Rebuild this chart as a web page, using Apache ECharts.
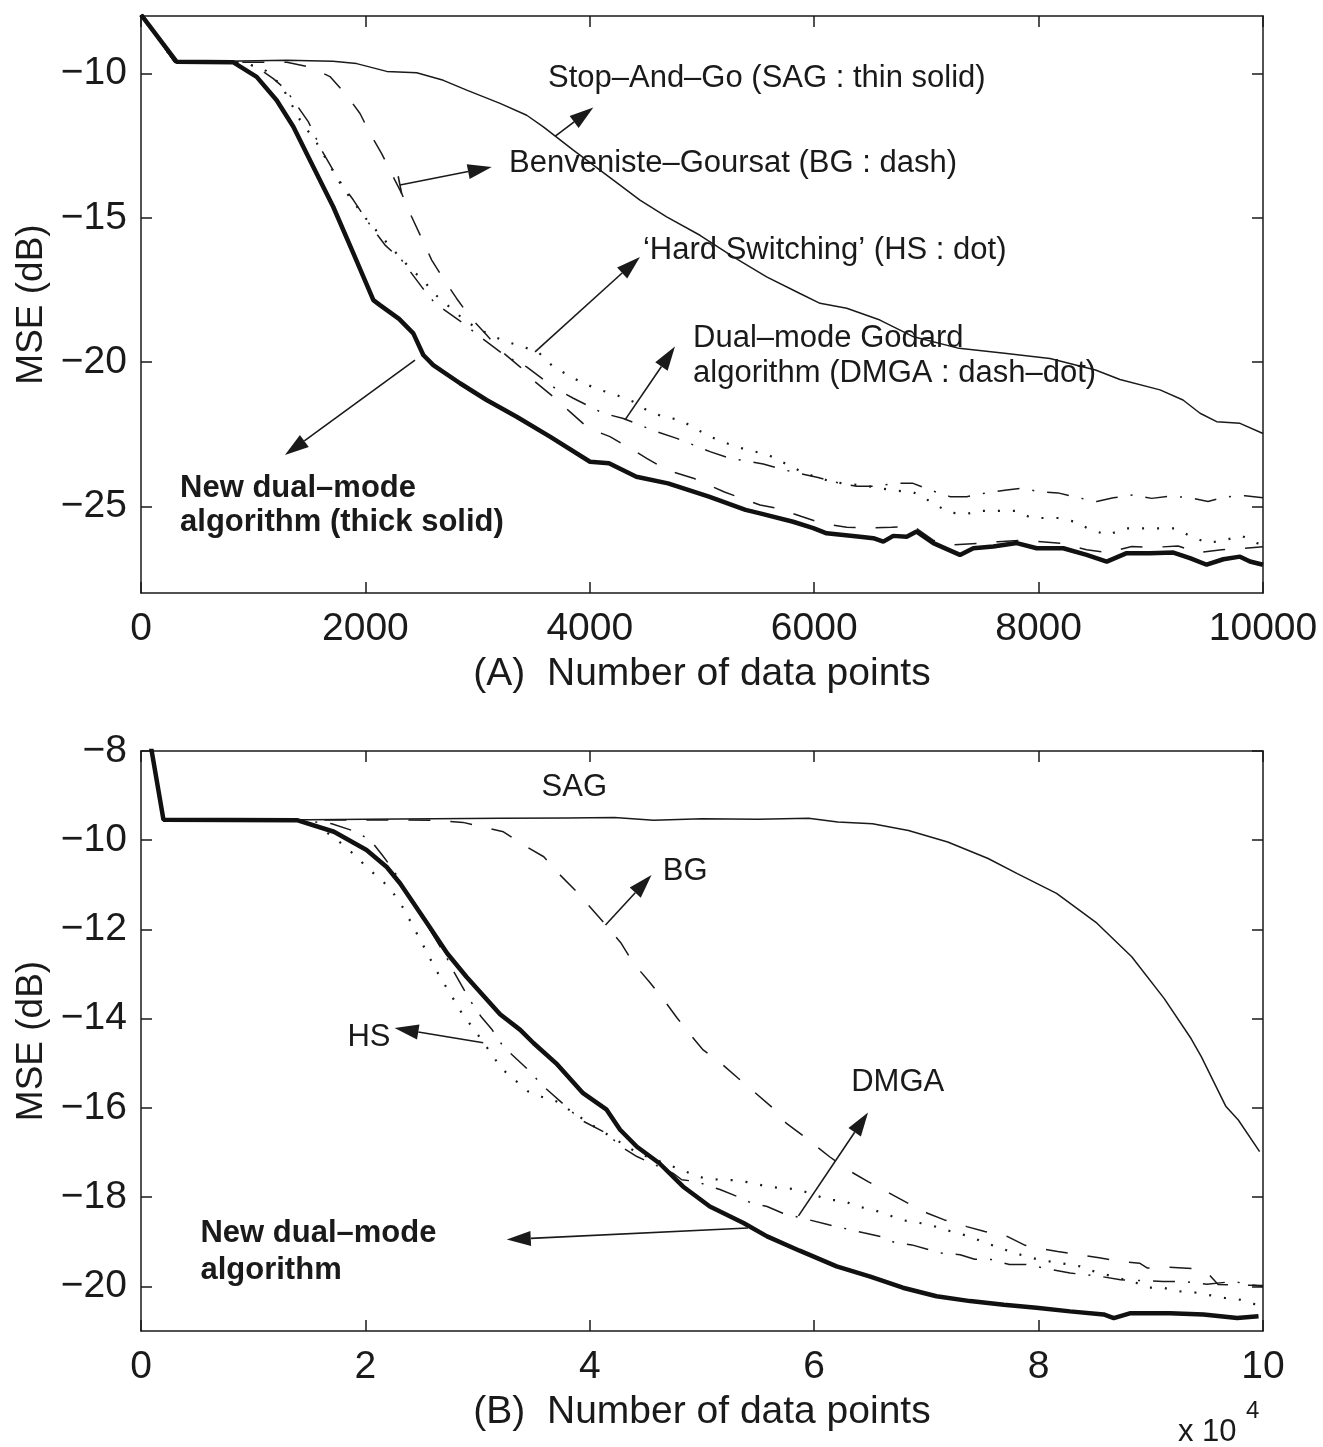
<!DOCTYPE html>
<html>
<head>
<meta charset="utf-8">
<title>MSE convergence (A) and (B)</title>
<script src="https://cdn.jsdelivr.net/npm/echarts@6/dist/echarts.min.js"></script>
<style>
  html, body { margin: 0; padding: 0; background: #fff; }
  #chart { width: 1323px; height: 1447px; }
</style>
</head>
<body>
<div id="chart"></div>
<script>
// (A) x: number of data points, y: MSE (dB)
const topSAG = [[0,-7.95],[300,-9.6],[882,-9.56],[1299,-9.53],[1711,-9.57],[1922,-9.65],[2190,-9.92],[2457,-9.97],[2695,-10.23],[2903,-10.57],[3200,-11.03],[3438,-11.44],[3586,-11.84],[3853,-12.65],[4091,-13.34],[4210,-13.69],[4447,-14.38],[4685,-14.96],[4982,-15.6],[5279,-16.35],[5576,-17.04],[5873,-17.62],[6052,-17.96],[6290,-18.13],[6586,-18.54],[6886,-19.12],[7291,-19.52],[7696,-19.69],[8101,-19.87],[8507,-20.27],[8725,-20.6],[9082,-20.96],[9287,-21.31],[9439,-21.77],[9587,-22.06],[9795,-22.12],[10000,-22.47]];
const topBG = [[0,-7.95],[300,-9.6],[1300,-9.6],[1506,-9.77],[1684,-10.1],[1833,-10.75],[1952,-11.38],[2041,-12.07],[2145,-12.77],[2249,-13.58],[2323,-14.15],[2412,-14.96],[2502,-15.71],[2591,-16.46],[2694,-17.1],[2813,-17.79],[2932,-18.43],[3081,-19.06],[3200,-19.58],[3378,-20.16],[3512,-20.68],[3675,-21.2],[3824,-21.72],[3987,-22.29],[4180,-22.58],[4358,-22.98],[4507,-23.33],[4685,-23.74],[4923,-24.02],[5200,-24.5],[5517,-24.95],[5665,-25.06],[5888,-25.35],[6066,-25.58],[6290,-25.72],[6468,-25.75],[6690,-25.72],[6883,-25.68],[7060,-26.17],[7240,-26.33],[7460,-26.28],[7638,-26.22],[7863,-26.17],[8205,-26.28],[8428,-26.5],[8619,-26.6],[8830,-26.39],[9020,-26.42],[9243,-26.37],[9412,-26.6],[9632,-26.5],[9822,-26.45],[10000,-26.4]];
const topHS = [[0,-7.95],[300,-9.6],[900,-9.6],[1100,-9.85],[1250,-10.4],[1417,-11.6],[1566,-12.4],[1803,-13.98],[2000,-15.0],[2200,-15.9],[2412,-16.8],[2516,-17.15],[2606,-17.6],[2754,-18.1],[2900,-18.6],[3111,-19.06],[3259,-19.29],[3407,-19.47],[3541,-19.65],[3675,-20.16],[3808,-20.45],[3942,-20.73],[4091,-20.96],[4239,-21.14],[4388,-21.37],[4507,-21.66],[4655,-21.89],[4804,-22.0],[5071,-22.58],[5220,-22.81],[5368,-23.0],[5588,-23.21],[5914,-23.85],[6160,-24.15],[6480,-24.3],[6720,-24.45],[6880,-24.5],[7060,-24.88],[7194,-25.2],[7344,-25.27],[7480,-25.15],[7790,-25.15],[7940,-25.4],[8173,-25.4],[8324,-25.53],[8458,-25.8],[8619,-25.99],[8770,-25.76],[9216,-25.76],[9364,-26.05],[9510,-26.27],[9661,-26.16],[9810,-26.02],[9944,-26.27],[10000,-26.3]];
const topDMGA = [[0,-7.95],[300,-9.6],[900,-9.6],[1031,-9.77],[1179,-10.17],[1283,-10.52],[1358,-10.92],[1492,-11.67],[1610,-12.65],[1729,-13.46],[1803,-13.9],[1893,-14.38],[2012,-15.08],[2086,-15.48],[2175,-15.94],[2323,-16.46],[2502,-17.39],[2620,-17.96],[2873,-18.65],[3021,-19.12],[3259,-19.81],[3437,-20.16],[3690,-20.9],[3853,-21.25],[4120,-21.77],[4299,-21.95],[4596,-22.41],[4775,-22.64],[5071,-23.1],[5250,-23.33],[5546,-23.53],[5740,-23.74],[6034,-24.0],[6230,-24.2],[6379,-24.3],[6524,-24.3],[6735,-24.2],[6881,-24.2],[7032,-24.43],[7210,-24.66],[7359,-24.66],[7504,-24.55],[7716,-24.43],[7849,-24.37],[8012,-24.49],[8173,-24.53],[8369,-24.71],[8518,-24.83],[8666,-24.7],[8845,-24.6],[9008,-24.72],[9171,-24.64],[9349,-24.7],[9510,-24.83],[9661,-24.67],[9840,-24.63],[10000,-24.7]];
const topNew = [[0,-7.95],[318,-9.59],[820,-9.6],[1031,-10.11],[1209,-10.92],[1358,-11.84],[1536,-13.23],[1714,-14.62],[1893,-16.23],[2071,-17.85],[2130,-18.02],[2300,-18.5],[2427,-19.0],[2516,-19.75],[2605,-20.1],[2843,-20.73],[3080,-21.31],[3348,-21.89],[3645,-22.58],[4002,-23.45],[4171,-23.5],[4415,-23.97],[4697,-24.2],[5062,-24.66],[5388,-25.12],[5517,-25.24],[5812,-25.53],[5992,-25.75],[6111,-25.93],[6408,-26.05],[6527,-26.1],[6616,-26.22],[6705,-26.02],[6824,-26.05],[6913,-25.87],[7062,-26.27],[7299,-26.68],[7418,-26.45],[7596,-26.39],[7805,-26.27],[7983,-26.45],[8220,-26.45],[8428,-26.68],[8607,-26.91],[8785,-26.62],[8993,-26.62],[9201,-26.6],[9349,-26.79],[9498,-27.02],[9646,-26.83],[9795,-26.74],[9884,-26.91],[10000,-27.02]];

// (B) x: number of data points in units of 10^4
const botSAG = [[0,-6.6],[0.2,-9.54],[1.0,-9.55],[2.0,-9.53],[3.2,-9.51],[3.8,-9.5],[4.22,-9.49],[4.57,-9.55],[5.0,-9.52],[5.5,-9.53],[5.95,-9.51],[6.21,-9.59],[6.52,-9.63],[6.84,-9.78],[7.19,-10.04],[7.55,-10.41],[7.81,-10.75],[8.16,-11.19],[8.52,-11.86],[8.83,-12.61],[9.12,-13.55],[9.36,-14.45],[9.45,-14.85],[9.67,-15.97],[9.78,-16.27],[9.97,-16.98]];
const botBG = [[0,-6.6],[0.2,-9.54],[2.6,-9.55],[2.87,-9.6],[3.23,-9.81],[3.41,-10.11],[3.59,-10.37],[3.72,-10.74],[3.87,-11.12],[4.0,-11.49],[4.13,-11.86],[4.28,-12.31],[4.39,-12.76],[4.53,-13.17],[4.66,-13.58],[4.78,-13.99],[4.91,-14.4],[5.01,-14.7],[5.17,-15.0],[5.32,-15.33],[5.46,-15.63],[5.63,-16.0],[5.75,-16.34],[5.92,-16.66],[6.14,-17.1],[6.32,-17.42],[6.48,-17.65],[6.67,-17.91],[6.83,-18.13],[7.01,-18.36],[7.16,-18.51],[7.36,-18.66],[7.52,-18.77],[7.72,-18.88],[7.88,-19.08],[7.99,-19.14],[8.17,-19.22],[8.36,-19.29],[8.54,-19.36],[8.72,-19.44],[8.9,-19.48],[8.97,-19.59],[9.15,-19.57],[9.38,-19.6],[9.52,-19.74],[9.6,-19.96],[10.0,-19.98]];
const botHS = [[0,-6.6],[0.2,-9.54],[1.4,-9.55],[1.6,-9.72],[1.77,-10.04],[1.89,-10.3],[2.04,-10.67],[2.16,-10.93],[2.25,-11.19],[2.34,-11.53],[2.41,-11.86],[2.49,-12.24],[2.56,-12.57],[2.63,-12.91],[2.71,-13.25],[2.78,-13.54],[2.87,-13.92],[2.96,-14.21],[3.13,-14.81],[3.21,-15.11],[3.33,-15.37],[3.45,-15.63],[3.57,-15.75],[3.7,-15.85],[4.03,-16.4],[4.42,-17.0],[4.89,-17.46],[5.01,-17.57],[5.16,-17.61],[5.31,-17.62],[5.44,-17.68],[5.58,-17.76],[5.72,-17.8],[5.85,-17.82],[6.13,-18.06],[6.26,-18.08],[6.38,-18.21],[6.51,-18.27],[6.65,-18.39],[6.78,-18.51],[6.91,-18.57],[7.0,-18.6],[7.12,-18.69],[7.26,-18.8],[7.39,-18.88],[7.51,-19.01],[7.66,-19.14],[7.78,-19.25],[8.0,-19.4],[8.37,-19.55],[8.46,-19.64],[8.87,-19.92],[8.99,-20.03],[9.11,-20.03],[9.24,-20.11],[9.38,-20.13],[9.51,-20.19],[9.66,-20.26],[9.8,-20.3],[9.91,-20.39],[10.0,-20.42]];
const botDMGA = [[0,-6.6],[0.2,-9.54],[1.4,-9.55],[1.7,-9.63],[1.88,-9.78],[2.04,-9.98],[2.15,-10.33],[2.25,-10.67],[2.4,-11.3],[2.55,-11.9],[2.72,-12.61],[2.78,-12.91],[2.93,-13.58],[3.03,-13.95],[3.13,-14.25],[3.23,-14.63],[3.47,-15.19],[3.57,-15.48],[3.79,-15.97],[3.92,-16.27],[4.15,-16.57],[4.28,-16.87],[4.42,-17.09],[4.74,-17.46],[4.82,-17.61],[4.95,-17.65],[5.03,-17.72],[5.16,-17.83],[5.31,-17.98],[5.44,-18.13],[5.58,-18.21],[5.72,-18.36],[6.13,-18.62],[6.32,-18.73],[6.44,-18.8],[6.59,-18.88],[6.73,-19.03],[6.87,-19.07],[7.12,-19.25],[7.3,-19.29],[7.43,-19.39],[7.58,-19.4],[7.74,-19.51],[7.89,-19.51],[8.13,-19.63],[8.28,-19.7],[8.56,-19.78],[8.73,-19.85],[9.11,-19.89],[9.3,-19.89],[9.5,-19.95],[9.74,-19.89],[9.88,-19.96],[10.0,-20.0]];
const botNew = [[0,-6.6],[0.2,-9.54],[1.39,-9.55],[1.72,-9.81],[2.01,-10.22],[2.19,-10.6],[2.31,-10.97],[2.55,-11.86],[2.73,-12.54],[2.9,-13.06],[3.2,-13.9],[3.38,-14.25],[3.5,-14.55],[3.7,-15.0],[3.94,-15.67],[4.15,-16.04],[4.27,-16.49],[4.42,-16.87],[4.62,-17.24],[4.83,-17.76],[5.07,-18.21],[5.37,-18.58],[5.58,-18.88],[5.87,-19.2],[6.2,-19.55],[6.5,-19.78],[6.79,-20.03],[7.09,-20.22],[7.39,-20.33],[7.69,-20.41],[7.98,-20.48],[8.28,-20.56],[8.58,-20.63],[8.67,-20.71],[8.82,-20.6],[9.17,-20.6],[9.47,-20.63],[9.77,-20.71],[9.96,-20.67]];

// tick values
const topYTicks = [-25, -20, -15, -10];
const botYTicks = [-20, -18, -16, -14, -12, -10, -8];

// annotations, in data coordinates of each panel
const topNotes = [
  { text: 'Stop\u2013And\u2013Go (SAG : thin solid)', at: [3627, -10.16] },
  { text: 'Benveniste\u2013Goursat (BG : dash)', at: [3280, -13.1] },
  { text: '\u2018Hard Switching\u2019 (HS : dot)', at: [4474, -16.12] },
  { text: 'Dual\u2013mode Godard', at: [4920, -19.17] },
  { text: 'algorithm (DMGA : dash\u2013dot)', at: [4920, -20.38] },
  { text: 'New dual\u2013mode', at: [348, -24.36], bold: true },
  { text: 'algorithm (thick solid)', at: [348, -25.54], bold: true }
];
const topArrows = [
  { from: [3690, -12.17], to: [4031, -11.17] },
  { from: [2308, -13.86], to: [3126, -13.23], bar: true },
  { from: [3512, -19.64], to: [4447, -16.35] },
  { from: [4314, -22.0], to: [4759, -19.46] },
  { from: [2442, -19.93], to: [1283, -23.22] }
];
const botNotes = [
  { text: 'SAG', at: [3.57, -8.81] },
  { text: 'BG', at: [4.65, -10.71] },
  { text: 'HS', at: [1.84, -14.43] },
  { text: 'DMGA', at: [6.33, -15.42] },
  { text: 'New dual\u2013mode', at: [0.53, -18.82], bold: true },
  { text: 'algorithm', at: [0.53, -19.65], bold: true }
];
const botArrows = [
  { from: [4.14, -11.9], to: [4.55, -10.78] },
  { from: [3.05, -14.54], to: [2.26, -14.21] },
  { from: [5.86, -18.42], to: [6.48, -16.1] },
  { from: [5.41, -18.69], to: [3.26, -18.95] }
];

const FONT = '"Liberation Sans", Arial, Helvetica, sans-serif';
const INK = '#1a1a1a';

const chart = echarts.init(document.getElementById('chart'));

const minus = v => (v < 0 ? '\u2212' : '') + Math.abs(v);

function xAxes(grid, max, interval, name) {
  const line = { show: true, onZero: false, lineStyle: { color: INK, width: 1.5 } };
  const tick = { show: true, inside: true, length: 11, lineStyle: { color: INK, width: 1.5 } };
  return [
    {
      type: 'value', gridIndex: grid, min: 0, max: max, interval: interval, position: 'bottom',
      name: name, nameLocation: 'middle', nameGap: 62,
      nameTextStyle: { fontSize: 39, color: INK, fontFamily: FONT },
      axisLine: line, axisTick: tick, splitLine: { show: false },
      axisLabel: { margin: 17, fontSize: 39, color: INK, fontFamily: FONT, formatter: v => String(v) }
    },
    {
      type: 'value', gridIndex: grid, min: 0, max: max, interval: interval, position: 'top',
      axisLine: line, axisTick: tick, splitLine: { show: false }, axisLabel: { show: false }
    }
  ];
}

function yAxes(grid, min, max, ticks) {
  const line = { show: true, onZero: false, lineStyle: { color: INK, width: 1.5 } };
  const tick = { show: true, inside: true, length: 11, customValues: ticks, lineStyle: { color: INK, width: 1.5 } };
  return [
    {
      type: 'value', gridIndex: grid, min: min, max: max, position: 'left',
      name: 'MSE (dB)', nameLocation: 'middle', nameGap: 86,
      nameTextStyle: { fontSize: 37, color: INK, fontFamily: FONT },
      axisLine: line, axisTick: tick, splitLine: { show: false },
      axisLabel: { customValues: ticks, margin: 14, fontSize: 39, color: INK, fontFamily: FONT, formatter: minus }
    },
    {
      type: 'value', gridIndex: grid, min: min, max: max, position: 'right',
      axisLine: line, axisTick: tick, splitLine: { show: false }, axisLabel: { show: false }
    }
  ];
}

const styles = {
  sag: { color: INK, width: 1.5 },
  bg: { color: INK, width: 1.5, type: [22, 20] },
  hs: { color: INK, width: 2.2, type: [2, 13] },
  dmga: { color: INK, width: 1.5, type: [22, 13, 2, 13] },
  neu: { color: '#111', width: 4.5 }
};

function line(name, data, grid, style) {
  return {
    name: name, type: 'line', data: data, xAxisIndex: grid * 2, yAxisIndex: grid * 2,
    symbol: 'none', clip: true, silent: true, lineStyle: style, z: style.width > 3 ? 3 : 2
  };
}

chart.setOption({
  animation: false,
  backgroundColor: '#fff',
  grid: [
    { left: 141, top: 16, width: 1122, height: 577 },
    { left: 141, top: 751, width: 1122, height: 580 }
  ],
  xAxis: xAxes(0, 10000, 2000, '(A)  Number of data points')
    .concat(xAxes(1, 10, 2, '(B)  Number of data points')),
  yAxis: yAxes(0, -28, -8, topYTicks).concat(yAxes(1, -21, -8, botYTicks)),
  series: [
    line('SAG', topSAG, 0, styles.sag),
    line('BG', topBG, 0, styles.bg),
    line('HS', topHS, 0, styles.hs),
    line('DMGA', topDMGA, 0, styles.dmga),
    line('New', topNew, 0, styles.neu),
    line('SAG', botSAG, 1, styles.sag),
    line('BG', botBG, 1, styles.bg),
    line('HS', botHS, 1, styles.hs),
    line('DMGA', botDMGA, 1, styles.dmga),
    line('New', botNew, 1, styles.neu)
  ]
});

// annotations: text and arrows placed through the axes of each panel
function arrow(p, q, bar) {
  const dx = q[0] - p[0], dy = q[1] - p[1];
  const len = Math.sqrt(dx * dx + dy * dy);
  const ux = dx / len, uy = dy / len, nx = -uy, ny = ux;
  const hl = 24, hw = 7.5;
  const bx = q[0] - ux * hl, by = q[1] - uy * hl;
  const parts = [
    { type: 'line', shape: { x1: p[0], y1: p[1], x2: bx, y2: by }, style: { stroke: INK, lineWidth: 1.6 } },
    { type: 'polygon', shape: { points: [[q[0], q[1]], [bx + nx * hw, by + ny * hw], [bx - nx * hw, by - ny * hw]] }, style: { fill: INK } }
  ];
  if (bar) {
    parts.push({ type: 'line', shape: { x1: p[0] + nx * 9, y1: p[1] + ny * 9, x2: p[0] - nx * 9, y2: p[1] - ny * 9 }, style: { stroke: INK, lineWidth: 1.6 } });
  }
  return parts;
}

const graphics = [];
[[topNotes, topArrows, 0], [botNotes, botArrows, 5]].forEach(([notes, arrows, si]) => {
  notes.forEach(n => {
    const pt = chart.convertToPixel({ seriesIndex: si }, n.at);
    graphics.push({
      type: 'text', x: pt[0], y: pt[1], z: 10,
      style: { text: n.text, fill: INK, align: 'left', verticalAlign: 'middle',
        font: (n.bold ? 'bold ' : '') + '31px ' + FONT }
    });
  });
  arrows.forEach(a => {
    const p = chart.convertToPixel({ seriesIndex: si }, a.from);
    const q = chart.convertToPixel({ seriesIndex: si }, a.to);
    arrow(p, q, a.bar).forEach(g => { g.z = 10; graphics.push(g); });
  });
});

// x 10^4 exponent note under panel B
const ex = chart.convertToPixel({ seriesIndex: 5 }, [10, -21]);
graphics.push({ type: 'text', x: ex[0] - 85, y: ex[1] + 101, style: { text: 'x 10', fill: INK, font: '31px ' + FONT, verticalAlign: 'middle' } });
graphics.push({ type: 'text', x: ex[0] - 17, y: ex[1] + 80, style: { text: '4', fill: INK, font: '24px ' + FONT, verticalAlign: 'middle' } });

chart.setOption({ graphic: graphics });
</script>
</body>
</html>
